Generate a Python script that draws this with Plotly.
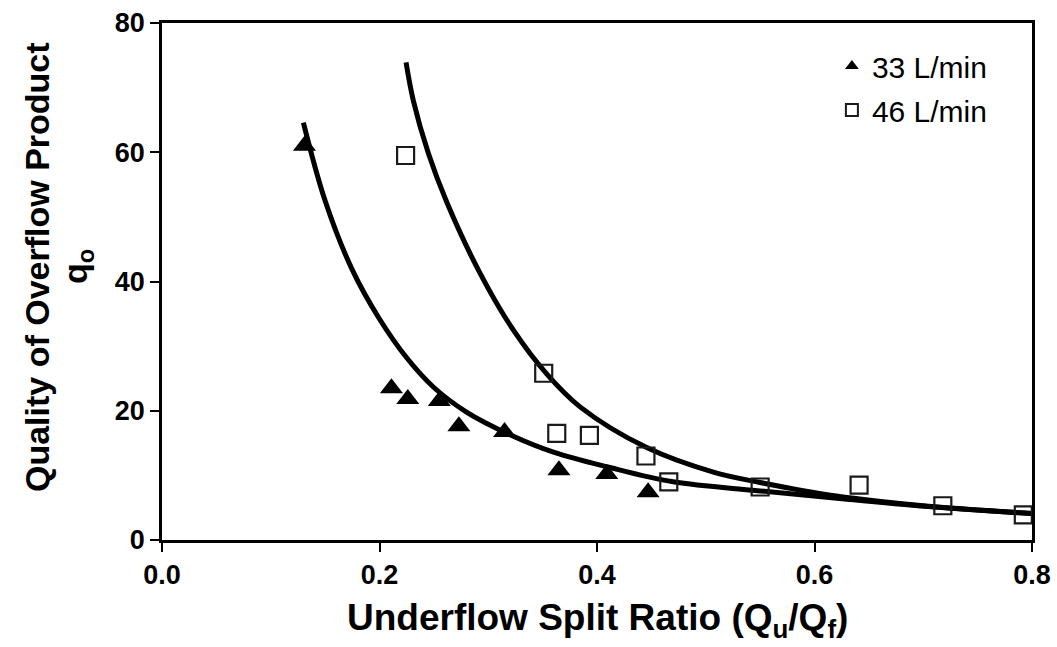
import plotly.graph_objects as go

# Measured data (33 L/min, filled triangles)
x33 = [0.131, 0.211, 0.226, 0.255, 0.273, 0.315, 0.365, 0.409, 0.447]
y33 = [61.0, 23.5, 21.8, 21.5, 17.6, 16.7, 10.8, 10.2, 7.4]

# Measured data (46 L/min, open squares)
x46 = [0.224, 0.351, 0.363, 0.393, 0.445, 0.466, 0.550, 0.641, 0.718, 0.792]
y46 = [59.5, 25.8, 16.5, 16.2, 13.0, 9.0, 8.2, 8.5, 5.3, 3.9]

# Trend curves
x33_fit = [0.130, 0.15, 0.175, 0.20, 0.225, 0.25, 0.28, 0.32, 0.36, 0.41, 0.47, 0.55, 0.63, 0.71, 0.80]
y33_fit = [64.6, 52.5, 41.8, 34.2, 28.2, 23.6, 19.8, 16.3, 13.6, 11.3, 9.0, 7.6, 6.3, 5.1, 4.1]

x46_fit = [0.2244, 0.2311, 0.245, 0.2618, 0.2924, 0.323, 0.3537, 0.3844, 0.4457, 0.507, 0.55, 0.62, 0.70, 0.80]
y46_fit = [73.9, 68.0, 59.8, 52.3, 41.3, 32.5, 25.7, 20.6, 14.3, 10.5, 8.9, 6.8, 5.3, 4.1]

x_ticks = [0, 0.2, 0.4, 0.6, 0.8]
x_ticktext = ["0.0", "0.2", "0.4", "0.6", "0.8"]
y_ticks = [0, 20, 40, 60, 80]

FONT = "Liberation Sans, Arial, sans-serif"

fig = go.Figure()
fig.add_trace(go.Scatter(x=x33_fit, y=y33_fit, mode="lines", line=dict(color="black", width=5, shape="spline"),
                         showlegend=False, hoverinfo="skip"))
fig.add_trace(go.Scatter(x=x46_fit, y=y46_fit, mode="lines", line=dict(color="black", width=5, shape="spline"),
                         showlegend=False, hoverinfo="skip"))
fig.add_trace(go.Scatter(x=x33, y=y33, mode="markers", name="33 L/min", legendgroup="a",
                         marker=dict(symbol="triangle-up", size=20, color="black", line=dict(width=0))))
fig.add_trace(go.Scatter(x=x46, y=y46, mode="markers", name="46 L/min", legendgroup="b",
                         marker=dict(symbol="square-open", size=17, color="#1a1a1a", line=dict(width=2.2))))

fig.update_layout(
    width=1057, height=647,
    margin=dict(l=162, r=25, t=23, b=107),
    paper_bgcolor="white", plot_bgcolor="white",
    font=dict(family=FONT, color="black"),
    showlegend=True,
    legend=dict(x=0.77, y=0.967, xanchor="left", yanchor="top", bgcolor="rgba(0,0,0,0)",
                font=dict(size=30, family=FONT), itemsizing="constant", tracegroupgap=2,
                traceorder="grouped"),
    xaxis=dict(range=[0, 0.8], tickvals=x_ticks, ticktext=x_ticktext, automargin=False,
               showgrid=False, zeroline=False, showline=True, linecolor="black", linewidth=2.5, mirror=True,
               ticks="outside", ticklen=9, tickwidth=1.5, tickcolor="black",
               tickfont=dict(size=27, family=FONT, weight="bold")),
    yaxis=dict(range=[0, 80], tickvals=y_ticks, automargin=False,
               showgrid=False, zeroline=False, showline=True, linecolor="black", linewidth=2.5, mirror=True,
               ticks="outside", ticklen=9, tickwidth=1.5, tickcolor="black",
               tickfont=dict(size=27, family=FONT, weight="bold")),
    annotations=[
        dict(text="Underflow Split Ratio (Q<sub>u</sub>/Q<sub>f</sub>)", xref="paper", yref="paper",
             x=0.5, y=-0.155, xanchor="center", yanchor="middle", showarrow=False,
             font=dict(size=37, family=FONT, weight="bold")),
        dict(text="Quality of Overflow Product", xref="paper", yref="paper", textangle=-90,
             x=-0.1437, y=0.528, xanchor="center", yanchor="middle", showarrow=False,
             font=dict(size=34, family=FONT, weight="bold")),
        dict(text="q<sub>o</sub>", xref="paper", yref="paper", textangle=-90,
             x=-0.0977, y=0.528, xanchor="center", yanchor="middle", showarrow=False,
             font=dict(size=34, family=FONT, weight="bold")),
    ],
)

fig.write_html("out.html")
